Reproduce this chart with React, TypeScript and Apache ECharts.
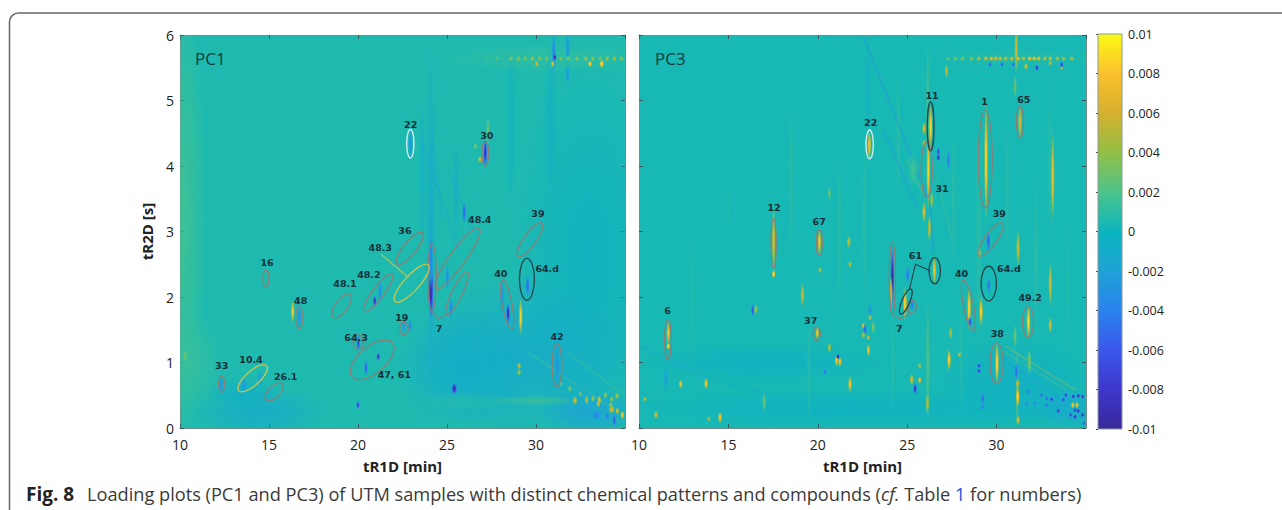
import React, { useEffect, useRef } from "react";
import * as echarts from "echarts";

const axisXTicks = { min: 10, max: 35, interval: 5 };
const axisYTicks = { min: 0, max: 6, interval: 1 };
const colorMin = -0.01;
const colorMax = 0.01;
const colorStep = 0.002;
const colormap = ["#38299a", "#3f36cc", "#3a58ea", "#2a82ee", "#1ea2d6", "#0bb5bf", "#4cc48a", "#93bf45", "#d5b02e", "#fcc02c", "#f9fb15"];
const backgroundValue = 0.0006;

// [tR1D, tR2D, radius in min, radius in s, loading]
const pc1Haze = [
  [10, 3.2, 1.5, 3.6, 0.0018], [10.5, 1.0, 1.8, 0.8, 0.0014], [14.5, 0.25, 3.8, 0.4, -0.0012], [13.5, 0.55, 2, 0.2, -0.0006],
  [33, 2.6, 4.5, 3.2, -0.0004], [29, 1.1, 6.5, 1.2, -0.0012], [26, 0.9, 4, 0.9, -0.001], [33, 0.25, 2.8, 0.35, -0.002],
  [30.5, 5.65, 6, 0.22, 0.0012], [24.1, 3.2, 0.3, 2.8, -0.0012], [28.6, 4.6, 0.25, 1.4, -0.0005], [30.8, 4.7, 0.35, 1.2, -0.0005],
  [26, 0.4, 3, 0.15, 0.0008], [30, 0.42, 2.6, 0.08, 0.0016], [23.6, 3.9, 0.2, 1.2, -0.0008], [25.5, 3.6, 0.2, 0.9, -0.0008],
];
const pc1Spots = [
  [22.94, 4.35, 0.08, 0.18, -0.003], [27.15, 4.2, 0.06, 0.17, -0.0095], [24.1, 2.1, 0.11, 0.36, -0.01], [24.1, 2.6, 0.08, 0.36, -0.0042],
  [25.96, 3.29, 0.05, 0.13, -0.0055], [20.94, 1.94, 0.05, 0.07, -0.009], [21.24, 2.08, 0.07, 0.14, -0.0035], [21.14, 1.09, 0.05, 0.05, -0.009],
  [20.45, 0.92, 0.05, 0.09, -0.006], [20.02, 1.3, 0.05, 0.1, -0.0075], [22.58, 1.55, 0.08, 0.09, -0.003], [22.92, 1.56, 0.05, 0.08, -0.0042],
  [16.7, 1.7, 0.08, 0.16, -0.0032], [25.22, 1.83, 0.07, 0.13, -0.0042], [25.02, 2.3, 0.07, 0.16, -0.0036], [28.43, 1.75, 0.05, 0.13, -0.0095],
  [28.1, 2.0, 0.1, 0.2, -0.003], [29.53, 2.17, 0.05, 0.13, -0.0055], [29.14, 1.7, 0.06, 0.22, 0.009], [16.33, 1.78, 0.05, 0.13, 0.0085],
  [29.05, 0.95, 0.05, 0.04, 0.0065], [29.05, 0.85, 0.05, 0.04, 0.0055], [25.41, 0.6, 0.12, 0.07, -0.01], [20.0, 0.35, 0.05, 0.05, -0.0075],
  [31.18, 0.95, 0.1, 0.3, -0.003], [13.6, 0.65, 0.13, 0.1, -0.0025], [14.5, 0.75, 0.13, 0.1, -0.002], [12.32, 0.65, 0.06, 0.12, -0.003],
  [27.3, 4.55, 0.05, 0.18, 0.003], [26.6, 4.3, 0.04, 0.04, 0.004], [26.85, 4.1, 0.05, 0.04, 0.007], [10.3, 1.1, 0.06, 0.1, 0.0035],
  [31.0, 5.72, 0.09, 0.26, -0.004], [31.05, 5.66, 0.05, 0.04, -0.0098], [31.78, 5.8, 0.08, 0.2, -0.003], [31.78, 5.4, 0.07, 0.12, -0.003],
  [33.03, 5.56, 0.06, 0.04, 0.0098], [33.69, 5.56, 0.1, 0.05, 0.0098], [30.94, 5.56, 0.05, 0.04, 0.008], [30.04, 5.56, 0.05, 0.04, 0.007],
  [32.19, 0.42, 0.1, 0.05, 0.007], [32.85, 0.43, 0.06, 0.05, 0.006], [33.56, 0.43, 0.07, 0.05, 0.008], [33.5, 0.37, 0.08, 0.04, 0.007],
  [34.25, 0.285, 0.12, 0.05, 0.0072], [34.2, 0.35, 0.05, 0.04, 0.005], [34.57, 0.26, 0.05, 0.04, 0.008], [34.85, 0.2, 0.06, 0.05, 0.009],
  [34.55, 0.49, 0.05, 0.04, 0.006], [34.25, 0.44, 0.05, 0.04, 0.005], [33.9, 0.5, 0.05, 0.04, 0.005], [33.2, 0.45, 0.05, 0.04, 0.005],
  [31.9, 0.6, 0.05, 0.04, 0.004], [31.4, 0.68, 0.05, 0.03, 0.003], [32.5, 0.52, 0.05, 0.03, 0.004], [33.4, 0.2, 0.2, 0.06, -0.004],
  [34.4, 0.12, 0.07, 0.08, -0.006], [34.0, 0.18, 0.1, 0.05, -0.0045],
];
const pc1TopRowX = [27.2, 27.8, 28.6, 29.0, 29.4, 29.8, 30.2, 30.6, 31.4, 31.8, 32.3, 32.8, 33.2, 33.6, 34.0, 34.4, 34.8];
const pc1TopRowValues = [0.002, 0.0025, 0.004, 0.0045, 0.004, 0.005, 0.0045, 0.004, 0.004, 0.004, 0.0045, 0.005, 0.0045, 0.004, 0.005, 0.0055, 0.0045];
// [tR1D start, tR2D start, tR1D end, tR2D end, loading]
const pc1Stripes = [
  [23.48, 4.45, 25.73, 2.67, -0.002], [24.98, 3.99, 26.67, 2.92, -0.0015], [24.2, 4.4, 24.7, 3.2, -0.0016],
  [29.6, 1.15, 33.9, 0.36, 0.0018], [30.8, 1.0, 34.4, 0.2, -0.002], [31.8, 1.15, 35, 0.5, 0.0016],
];
// [start tR1D, start tR2D, end tR1D, end tR2D, minor width in min]
const pc1GreyEllipses = [
  [27.15, 4.38, 27.15, 4.0, 0.37], [23.62, 2.98, 22.19, 2.5, 0.73], [26.81, 3.05, 24.38, 2.13, 0.9], [30.32, 3.13, 29.0, 2.62, 0.7],
  [24.16, 2.82, 24.16, 1.78, 0.48], [26.14, 2.38, 24.98, 1.73, 0.6], [21.93, 2.35, 20.35, 1.78, 0.65], [19.55, 2.04, 18.61, 1.69, 0.7],
  [14.83, 2.41, 14.83, 2.16, 0.34], [16.7, 1.85, 16.7, 1.52, 0.41], [22.58, 1.61, 22.58, 1.42, 0.48], [20.02, 1.42, 20.02, 1.2, 0.6],
  [21.93, 1.3, 19.67, 0.78, 1.5], [31.18, 1.29, 31.18, 0.63, 0.56], [28.13, 2.26, 28.63, 1.5, 0.56], [12.34, 0.79, 12.34, 0.55, 0.34],
  [15.75, 0.67, 14.83, 0.43, 0.65],
];
const pc1YellowEllipses = [[23.95, 2.49, 22.08, 1.93, 0.85], [14.87, 0.95, 13.3, 0.57, 0.8]];
const pc1PaleEllipses = [[22.94, 4.56, 22.94, 4.12, 0.41]];
const pc1DarkEllipses = [[29.49, 2.59, 29.49, 1.95, 0.84]];
const pc1GreyLeader = [[24.16, 1.78], [24.55, 1.67], [25.07, 1.75]];
const pc1YellowLeader = [[21.3, 2.65], [22.83, 2.3]];
const pc1LabelText = ["22", "30", "39", "48.4", "36", "48.3", "16", "48.2", "48.1", "48", "19", "64.3", "10.4", "33", "26.1", "47, 61", "40", "64.d", "42", "7"];
const pc1LabelX = [22.96, 27.24, 30.11, 26.84, 22.64, 21.25, 14.89, 20.61, 19.27, 16.78, 22.46, 19.89, 13.99, 12.34, 15.94, 22.04, 28.02, 30.63, 31.18, 24.55];
const pc1LabelY = [4.63, 4.47, 3.28, 3.19, 3.01, 2.75, 2.53, 2.35, 2.2, 1.94, 1.69, 1.38, 1.04, 0.95, 0.78, 0.81, 2.36, 2.44, 1.4, 1.52];

const pc3Haze = [
  [31, 5.65, 5, 0.16, 0.0008], [22, 0.3, 13, 0.3, -0.0004], [17, 1.0, 7, 0.3, -0.0005], [31, 0.7, 4.5, 0.7, -0.0006],
  [34, 0.3, 2, 0.3, -0.0014], [26.15, 1.0, 0.12, 1.05, 0.0026], [26.15, 4.8, 0.1, 1.2, 0.0026], [31.15, 0.6, 0.09, 0.7, 0.004],
  [24.2, 1.0, 0.12, 1.0, 0.001], [22.8, 5.2, 0.15, 0.8, -0.0008], [29, 3.0, 0.2, 2.2, 0.001], [33, 4.0, 0.15, 1.5, 0.001],
  [18.5, 3.8, 0.15, 1.4, 0.001], [21.2, 3, 0.15, 1.5, 0.001], [28, 1.2, 0.15, 1.1, 0.001], [13, 2, 0.15, 1.2, 0.0008],
  [22.6, 3.2, 0.12, 1.4, 0.0012], [24.5, 4.5, 0.12, 1.0, 0.0012], [32.2, 2.6, 0.12, 1.4, 0.0012], [19.5, 0.9, 0.12, 1.0, 0.001],
  [27.6, 3.5, 0.12, 1.2, 0.0012], [15, 3.3, 0.1, 1, 0.0007], [30.6, 3.6, 0.12, 1.2, 0.001], [34, 2.2, 0.12, 1.2, 0.0008],
];
const pc3Spots = [
  [22.88, 4.32, 0.08, 0.17, 0.0085], [26.31, 4.6, 0.06, 0.26, 0.0095], [25.94, 4.57, 0.05, 0.08, 0.007], [26.18, 3.94, 0.08, 0.46, 0.009],
  [25.94, 4.34, 0.05, 0.05, 0.007], [25.34, 3.94, 0.22, 0.22, 0.0016], [25.94, 3.3, 0.06, 0.13, 0.0072], [26.24, 3.05, 0.07, 0.16, 0.0062],
  [26.37, 3.48, 0.08, 0.1, 0.005], [26.74, 4.22, 0.04, 0.05, -0.0072], [26.74, 4.13, 0.04, 0.05, -0.0088], [27.3, 4.09, 0.05, 0.13, -0.0042],
  [29.41, 4.09, 0.07, 0.72, 0.0095], [31.31, 4.67, 0.06, 0.2, 0.0072], [33.14, 3.84, 0.06, 0.52, 0.0078], [27.2, 5.45, 0.05, 0.08, 0.006],
  [31.03, 5.21, 0.05, 0.15, 0.003], [31.2, 2.74, 0.05, 0.22, 0.0062], [17.53, 2.87, 0.07, 0.4, 0.0072], [17.53, 2.35, 0.06, 0.05, 0.01],
  [20.09, 2.84, 0.07, 0.16, 0.0085], [21.74, 2.84, 0.05, 0.08, 0.006], [20.65, 3.58, 0.05, 0.08, 0.003], [24.17, 2.3, 0.08, 0.36, -0.01],
  [24.08, 2.05, 0.06, 0.2, 0.0072], [25.03, 2.34, 0.05, 0.1, -0.005], [24.88, 1.9, 0.08, 0.2, 0.0095], [25.27, 1.88, 0.06, 0.08, -0.0042],
  [26.52, 2.41, 0.08, 0.17, 0.0085], [28.46, 1.83, 0.05, 0.26, 0.0095], [28.51, 1.62, 0.06, 0.06, -0.0072], [29.13, 1.78, 0.06, 0.18, 0.0092],
  [29.56, 2.18, 0.04, 0.1, -0.005], [29.54, 2.85, 0.05, 0.12, -0.0062], [29.03, 2.67, 0.07, 0.06, 0.006], [31.78, 1.62, 0.09, 0.2, 0.0095],
  [33.0, 2.2, 0.05, 0.26, 0.0065], [33.0, 1.57, 0.05, 0.1, 0.0065], [31.03, 1.4, 0.05, 0.15, 0.003], [30.02, 0.99, 0.05, 0.26, 0.0095],
  [11.64, 1.45, 0.06, 0.14, 0.0085], [11.64, 1.25, 0.05, 0.04, 0.01], [19.97, 1.45, 0.07, 0.08, 0.0085], [19.14, 2.03, 0.06, 0.14, 0.0062],
  [16.36, 1.8, 0.05, 0.08, -0.0062], [16.54, 1.81, 0.05, 0.06, 0.005], [20.65, 1.23, 0.04, 0.06, 0.006], [21.05, 1.03, 0.04, 0.07, 0.0085],
  [21.24, 1.01, 0.04, 0.06, 0.0085], [21.13, 1.09, 0.04, 0.03, -0.01], [21.8, 0.67, 0.05, 0.1, 0.0085], [22.55, 1.56, 0.05, 0.04, 0.0085],
  [22.64, 1.5, 0.05, 0.07, -0.006], [22.55, 1.42, 0.04, 0.04, 0.006], [22.83, 1.38, 0.03, 0.03, 0.007], [22.83, 1.19, 0.04, 0.07, 0.0085],
  [22.92, 1.69, 0.04, 0.04, 0.006], [23.1, 1.54, 0.04, 0.08, 0.004], [22.92, 1.8, 0.04, 0.08, -0.003], [21.8, 2.5, 0.05, 0.04, 0.006],
  [20.12, 2.41, 0.04, 0.04, 0.005], [12.33, 0.67, 0.05, 0.05, 0.0085], [13.75, 0.68, 0.05, 0.07, 0.0085], [14.53, 0.16, 0.04, 0.07, 0.009],
  [10.95, 0.2, 0.05, 0.05, 0.007], [10.34, 0.44, 0.04, 0.03, 0.006], [13.9, 0.14, 0.04, 0.03, 0.006], [20.4, 0.86, 0.03, 0.04, -0.005],
  [25.7, 0.95, 0.03, 0.04, 0.005], [25.25, 0.74, 0.04, 0.07, 0.0072], [25.7, 0.73, 0.04, 0.04, 0.0085], [25.44, 0.6, 0.05, 0.07, -0.009],
  [26.13, 0.38, 0.06, 0.12, 0.006], [27.34, 1.04, 0.05, 0.13, 0.0092], [27.92, 1.12, 0.04, 0.03, 0.007], [27.43, 1.45, 0.04, 0.08, 0.005],
  [29.02, 0.95, 0.03, 0.03, -0.008], [29.02, 0.87, 0.03, 0.03, -0.008], [31.1, 0.86, 0.04, 0.12, -0.0055], [31.18, 0.68, 0.05, 0.05, 0.0072],
  [31.18, 0.48, 0.05, 0.13, 0.0095], [31.2, 0.12, 0.05, 0.06, 0.0072], [31.1, 5.8, 0.05, 0.3, 0.0062], [29.22, 0.45, 0.04, 0.07, -0.0055],
  [29.22, 0.33, 0.04, 0.05, -0.0042], [31.83, 1.01, 0.04, 0.16, 0.004], [33.64, 5.5, 0.04, 0.03, 0.006], [31.64, 5.52, 0.04, 0.04, 0.0075],
  [33.0, 5.57, 0.04, 0.03, 0.0065], [32.25, 5.5, 0.05, 0.04, -0.0085], [29.63, 5.55, 0.04, 0.03, -0.006], [30.29, 5.55, 0.04, 0.03, -0.006],
  [30.94, 5.55, 0.04, 0.03, -0.006], [33.64, 5.55, 0.05, 0.04, -0.0075], [11.5, 0.75, 0.05, 0.15, -0.0025], [17, 0.4, 0.06, 0.12, 0.003],
  [34.26, 0.35, 0.06, 0.04, 0.0085], [34.49, 0.35, 0.06, 0.04, 0.0085],
];
const pc3BlueDotX = [31.68, 31.81, 32.15, 32.52, 32.8, 33.08, 32.8, 33.73, 33.45, 33.88, 34.29, 34.57, 34.81, 34.39, 34.57, 34.14, 34.81, 34.39, 34.89];
const pc3BlueDotY = [0.37, 0.55, 0.38, 0.5, 0.45, 0.44, 0.35, 0.43, 0.26, 0.5, 0.48, 0.49, 0.48, 0.27, 0.26, 0.2, 0.2, 0.17, 0.07];
const pc3BlueDotValues = [-0.004, -0.005, -0.004, -0.0055, -0.006, -0.0085, -0.005, -0.008, -0.009, -0.008, -0.009, -0.0095, -0.009, -0.0085, -0.0095, -0.008, -0.0095, -0.009, -0.006];
const pc3TopRowX = [27.3, 27.7, 28.1, 28.6, 29.0, 29.4, 29.7, 29.95, 30.2, 30.5, 30.85, 31.2, 31.5, 31.85, 32.1, 32.35, 32.7, 33.0, 33.4, 33.75, 34.2];
const pc3TopRowValues = [0.003, 0.0035, 0.004, 0.0045, 0.0055, 0.0075, 0.008, 0.0075, 0.007, 0.006, 0.0075, 0.0085, 0.006, 0.0085, 0.0085, 0.0085, 0.0065, 0.0065, 0.0055, 0.005, 0.0055];
const pc3Stripes = [
  [22.55, 5.97, 26.28, 3.43, -0.003], [26.28, 3.43, 26.46, 2.67, -0.003], [23.67, 4.55, 25.53, 3.38, -0.0028], [24.97, 4.09, 25.9, 3.58, 0.003],
  [30.5, 1.25, 34.4, 0.58, 0.0035], [30.3, 1.05, 33.5, 0.45, -0.0025], [30.2, 1.2, 33.8, 0.6, 0.002], [26.6, 3.9, 27.5, 2.9, 0.0018],
  [10, 1.25, 14, 0.75, -0.0016], [14, 0.75, 18, 0.45, -0.001],
];
const pc3GreyEllipses = [
  [26.09, 4.37, 26.09, 3.52, 0.63], [29.37, 4.85, 29.37, 3.36, 0.78], [31.31, 4.91, 31.31, 4.43, 0.41], [30.32, 3.13, 29.03, 2.63, 0.7],
  [17.53, 3.2, 17.53, 2.44, 0.28], [20.08, 3.02, 20.08, 2.64, 0.34], [24.17, 2.83, 24.17, 1.74, 0.34], [25.27, 1.95, 25.27, 1.75, 0.48],
  [28.14, 2.26, 28.7, 1.49, 0.56], [31.76, 1.85, 31.76, 1.39, 0.63], [30.0, 1.3, 30.0, 0.68, 0.75], [19.94, 1.54, 19.94, 1.34, 0.41],
  [11.62, 1.64, 11.62, 1.05, 0.37],
];
const pc3PaleEllipses = [[22.9, 4.55, 22.9, 4.11, 0.41]];
const pc3DarkEllipses = [
  [26.31, 4.98, 26.31, 4.23, 0.37], [25.21, 2.12, 24.63, 1.74, 0.45], [26.54, 2.6, 26.54, 2.2, 0.63], [29.56, 2.47, 29.56, 1.94, 0.86],
];
const pc3GreyLeader = [[24.17, 1.74], [24.56, 1.66], [25.25, 1.75]];
const pc3DarkLeader = [[25.12, 2.11], [25.46, 2.5], [26.28, 2.4]];
const pc3LabelText = ["22", "11", "1", "65", "31", "12", "67", "39", "61", "40", "64.d", "49.2", "6", "37", "38", "7"];
const pc3LabelX = [22.96, 26.39, 29.33, 31.52, 26.95, 17.55, 20.08, 30.15, 25.46, 28.04, 30.69, 31.88, 11.6, 19.6, 30.04, 24.56];
const pc3LabelY = [4.67, 5.08, 4.99, 5.02, 3.65, 3.36, 3.15, 3.28, 2.63, 2.36, 2.44, 2.0, 1.79, 1.64, 1.45, 1.52];

const topRowY = 5.64;

function colorOf(v: number): string {
  const t = (v - colorMin) / (colorMax - colorMin);
  return echarts.color.lerp(Math.max(0, Math.min(1, t)), colormap) as string;
}

function softEllipseSeries(xi: number, yi: number, rows: number[][], hard: boolean, z: number) {
  return {
    type: "custom", xAxisIndex: xi, yAxisIndex: yi, clip: true, silent: true, z, encode: { x: 0, y: 1 },
    data: rows,
    renderItem: (_: any, api: any) => {
      const c = api.coord([api.value(0), api.value(1)]);
      const s = api.size([api.value(2), api.value(3)]);
      const v = api.value(4);
      const col = colorOf(v);
      const stops = hard
        ? [
            { offset: 0, color: col },
            { offset: 0.35, color: colorOf(v * 0.82) },
            { offset: 0.65, color: echarts.color.modifyAlpha(colorOf(v * 0.5), 0.8) },
            { offset: 1, color: echarts.color.modifyAlpha(colorOf(v * 0.2), 0) },
          ]
        : [
            { offset: 0, color: echarts.color.modifyAlpha(col, 0.8) },
            { offset: 0.55, color: echarts.color.modifyAlpha(col, 0.45) },
            { offset: 1, color: echarts.color.modifyAlpha(col, 0) },
          ];
      return {
        type: "ellipse",
        shape: {
          cx: c[0], cy: c[1],
          rx: Math.max(s[0] * (hard ? 1.5 : 1), hard ? 2.2 : 1),
          ry: Math.max(s[1] * (hard ? 1.4 : 1), hard ? 2.2 : 1),
        },
        style: { fill: { type: "radial", x: 0.5, y: 0.5, r: 0.5, colorStops: stops } },
      };
    },
  };
}

function stripeSeries(xi: number, yi: number, rows: number[][]) {
  return {
    type: "custom", xAxisIndex: xi, yAxisIndex: yi, clip: true, silent: true, z: 3, encode: { x: 0, y: 1 },
    data: rows,
    renderItem: (_: any, api: any) => {
      const a = api.coord([api.value(0), api.value(1)]);
      const b = api.coord([api.value(2), api.value(3)]);
      return {
        type: "line",
        shape: { x1: a[0], y1: a[1], x2: b[0], y2: b[1] },
        style: { stroke: colorOf(api.value(4)), lineWidth: 2, opacity: 0.4 },
      };
    },
  };
}

function ringSeries(xi: number, yi: number, rows: number[][], stroke: string) {
  return {
    type: "custom", xAxisIndex: xi, yAxisIndex: yi, silent: true, z: 6, encode: { x: 0, y: 1 },
    data: rows,
    renderItem: (_: any, api: any) => {
      const a = api.coord([api.value(0), api.value(1)]);
      const b = api.coord([api.value(2), api.value(3)]);
      const dx = b[0] - a[0];
      const dy = b[1] - a[1];
      const minor = api.size([api.value(4), 0])[0] / 2;
      return {
        type: "ellipse",
        x: (a[0] + b[0]) / 2,
        y: (a[1] + b[1]) / 2,
        rotation: -Math.atan2(dy, dx),
        shape: { cx: 0, cy: 0, rx: Math.hypot(dx, dy) / 2, ry: minor },
        style: { fill: "none", stroke, lineWidth: 1.35 },
      };
    },
  };
}

function leaderSeries(xi: number, yi: number, points: number[][], stroke: string) {
  return {
    type: "line", xAxisIndex: xi, yAxisIndex: yi, silent: true, z: 6, symbol: "none",
    data: points, lineStyle: { color: stroke, width: 1.1 },
  };
}

function labelSeries(xi: number, yi: number, text: string[], xs: number[], ys: number[]) {
  return {
    type: "custom", xAxisIndex: xi, yAxisIndex: yi, silent: true, z: 7, encode: { x: 0, y: 1 },
    data: xs.map((x, i) => [x, ys[i]]),
    renderItem: (p: any, api: any) => {
      const c = api.coord([api.value(0), api.value(1)]);
      return {
        type: "text",
        style: {
          text: text[p.dataIndex], x: c[0], y: c[1], fill: "#15303a",
          font: 'bold 9.5px "DejaVu Sans"', textAlign: "center", textVerticalAlign: "middle",
        },
      };
    },
  };
}

function axisPair(gridIndex: number, withLabels: boolean) {
  const lineStyle = { color: "#6f8f8c", width: 1 };
  const tick = { show: true, inside: true, length: 4, lineStyle: { color: "#35595a" } };
  const xBase = { type: "value", gridIndex, ...axisXTicks, splitLine: { show: false }, axisLine: { show: true, onZero: false, lineStyle }, axisTick: tick };
  const yBase = { type: "value", gridIndex, ...axisYTicks, splitLine: { show: false }, axisLine: { show: true, onZero: false, lineStyle }, axisTick: tick };
  const labelFont = { fontFamily: "Open Sans", fontSize: 14, color: "#222", fontWeight: 500 };
  const nameStyle = { fontFamily: "Open Sans", fontSize: 15, fontWeight: "bold", color: "#222" };
  return {
    x: [
      { ...xBase, position: "bottom", axisLabel: { ...labelFont, margin: 9, showMaxLabel: false }, name: "tR1D [min]", nameLocation: "middle", nameGap: 30, nameTextStyle: nameStyle },
      { ...xBase, position: "top", axisLabel: { show: false } },
    ],
    y: [
      {
        ...yBase, position: "left",
        axisLabel: withLabels ? { ...labelFont, margin: 6 } : { show: false },
        ...(withLabels ? { name: "tR2D [s]", nameLocation: "middle", nameGap: 26, nameTextStyle: nameStyle } : {}),
      },
      { ...yBase, position: "right", axisLabel: { show: false } },
    ],
  };
}

export default function App() {
  const ref = useRef<HTMLDivElement>(null);
  useEffect(() => {
    document.body.style.margin = "0";
    const chart = echarts.init(ref.current!, null, { renderer: "svg" });
    const a = axisPair(0, true);
    const b = axisPair(1, false);
    const grey = "#86807a";
    const yellow = "#c4c550";
    const pale = "#d5eef0";
    const dark = "#24474d";
    const text = { fontFamily: "Open Sans", fontSize: 18.2, fill: "#3a3a3a" };
    chart.setOption({
      animation: false,
      backgroundColor: "#fff",
      grid: [
        { left: 180, top: 35, width: 445, height: 393, show: true, backgroundColor: colorOf(backgroundValue), borderWidth: 0 },
        { left: 639, top: 35, width: 447, height: 393, show: true, backgroundColor: colorOf(backgroundValue - 0.0002), borderWidth: 0 },
        { left: 1098, top: 34, width: 24, height: 395, show: false },
      ],
      xAxis: [...a.x, ...b.x, { type: "value", gridIndex: 2, min: 0, max: 1, show: false }],
      yAxis: [
        ...a.y, ...b.y,
        {
          type: "value", gridIndex: 2, position: "right", min: colorMin, max: colorMax, interval: colorStep,
          splitLine: { show: false }, axisLine: { show: false },
          axisTick: { show: true, inside: true, length: 2, lineStyle: { color: "#444" } },
          axisLabel: { margin: 6, fontFamily: "Open Sans", fontSize: 12.5, color: "#222", formatter: (v: number) => String(+v.toFixed(3)) },
        },
      ],
      series: [
        softEllipseSeries(0, 0, pc1Haze, false, 2),
        stripeSeries(0, 0, pc1Stripes),
        softEllipseSeries(0, 0, [
          ...pc1Spots,
          ...pc1TopRowX.map((x, i) => [x, topRowY, 0.09, 0.035, pc1TopRowValues[i]]),
        ], true, 4),
        ringSeries(0, 0, pc1GreyEllipses, grey),
        ringSeries(0, 0, pc1YellowEllipses, yellow),
        ringSeries(0, 0, pc1PaleEllipses, pale),
        ringSeries(0, 0, pc1DarkEllipses, dark),
        leaderSeries(0, 0, pc1GreyLeader, grey),
        leaderSeries(0, 0, pc1YellowLeader, yellow),
        labelSeries(0, 0, pc1LabelText, pc1LabelX, pc1LabelY),

        softEllipseSeries(2, 2, pc3Haze, false, 2),
        stripeSeries(2, 2, pc3Stripes),
        softEllipseSeries(2, 2, [
          ...pc3Spots,
          ...pc3BlueDotX.map((x, i) => [x, pc3BlueDotY[i], 0.06, 0.03, pc3BlueDotValues[i]]),
          ...pc3TopRowX.map((x, i) => [x, topRowY, 0.1, 0.03, pc3TopRowValues[i]]),
        ], true, 4),
        ringSeries(2, 2, pc3GreyEllipses, grey),
        ringSeries(2, 2, pc3PaleEllipses, pale),
        ringSeries(2, 2, pc3DarkEllipses, dark),
        leaderSeries(2, 2, pc3GreyLeader, grey),
        leaderSeries(2, 2, pc3DarkLeader, dark),
        labelSeries(2, 2, pc3LabelText, pc3LabelX, pc3LabelY),

        {
          type: "custom", xAxisIndex: 4, yAxisIndex: 4, silent: true, encode: { x: 0, y: 1 },
          data: [[0, colorMax, 1, colorMin]],
          renderItem: (_: any, api: any) => {
            const t = api.coord([api.value(0), api.value(1)]);
            const e = api.coord([api.value(2), api.value(3)]);
            return {
              type: "rect",
              shape: { x: t[0], y: t[1], width: e[0] - t[0], height: e[1] - t[1] },
              style: {
                stroke: "#8a9a98", lineWidth: 1,
                fill: {
                  type: "linear", x: 0, y: 1, x2: 0, y2: 0,
                  colorStops: colormap.map((color, i) => ({ offset: i / (colormap.length - 1), color })),
                },
              },
            };
          },
        },
      ],
      graphic: [
        { type: "line", silent: true, shape: { x1: 9.5, y1: 22, x2: 9.5, y2: 510 }, style: { stroke: "#666", lineWidth: 1.5 } },
        { type: "line", silent: true, shape: { x1: 18.5, y1: 13, x2: 1282, y2: 13 }, style: { stroke: "#666", lineWidth: 1.5 } },
        { type: "arc", silent: true, shape: { cx: 18.5, cy: 22, r: 9, startAngle: Math.PI, endAngle: Math.PI * 1.5 }, style: { stroke: "#666", lineWidth: 1.5, fill: "none" } },
        { type: "text", silent: true, x: 195, y: 58, z: 20, style: { text: "PC1", font: '17px "Open Sans"', fill: "#17383c", textVerticalAlign: "middle" } },
        { type: "text", silent: true, x: 655, y: 58, z: 20, style: { text: "PC3", font: '17px "Open Sans"', fill: "#17383c", textVerticalAlign: "middle" } },
        { type: "text", silent: true, x: 26, y: 494, style: { text: "Fig. 8", font: 'bold 19px "Open Sans"', fill: "#222", textVerticalAlign: "middle" } },
        {
          type: "text", silent: true, x: 87, y: 494,
          style: {
            text: "{a|Loading plots (PC1 and PC3) of UTM samples with distinct chemical patterns and compounds (}{i|cf.}{a| Table }{b|1}{a| for numbers)}",
            textVerticalAlign: "middle",
            rich: {
              a: { ...text },
              i: { ...text, fontStyle: "italic" },
              b: { ...text, fill: "#2b54d8" },
            },
          },
        },
      ],
    });
    return () => chart.dispose();
  }, []);
  return <div ref={ref} style={{ position: "absolute", left: 0, top: 0, width: 1282, height: 510 }} />;
}
